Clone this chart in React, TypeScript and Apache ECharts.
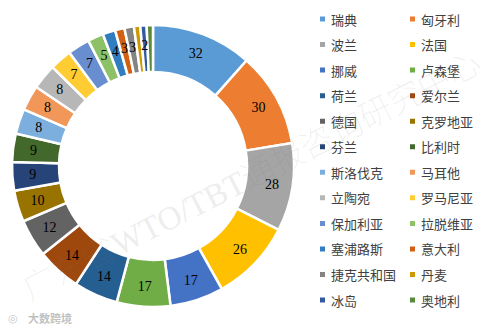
import React, { useEffect, useRef } from "react";
import * as echarts from "echarts";

const countries = [
  "瑞典", "匈牙利", "波兰", "法国", "挪威", "卢森堡", "荷兰", "爱尔兰",
  "德国", "克罗地亚", "芬兰", "比利时", "斯洛伐克", "马耳他", "立陶宛", "罗马尼亚",
  "保加利亚", "拉脱维亚", "塞浦路斯", "意大利", "捷克共和国", "丹麦", "冰岛", "奥地利",
];
const counts = [32, 30, 28, 26, 17, 17, 14, 14, 12, 10, 9, 9, 8, 8, 8, 7, 7, 5, 4, 3, 3, 2, 2, 2];
const colors = [
  "#5B9BD5", "#ED7D31", "#A5A5A5", "#FFC000", "#4472C4", "#70AD47",
  "#255E91", "#9E480E", "#636363", "#997300", "#264478", "#43682B",
  "#7CAFDD", "#F1975A", "#B7B7B7", "#FFCD33", "#698ED0", "#8CC168",
  "#327DC2", "#D26012", "#848484", "#CC9A00", "#335AA1", "#5A8A39",
];
const watermark = "广东省WTO/TBT通报咨询研究中心";
const logoText = "大数跨境";

export default function App() {
  const ref = useRef<HTMLDivElement>(null);
  useEffect(() => {
    if (!ref.current) return;
    const chart = echarts.init(ref.current, undefined, { renderer: "svg" });
    const legendCommon = {
      orient: "vertical" as const,
      top: 11,
      padding: 0,
      itemWidth: 7,
      itemHeight: 7,
      itemGap: 9.55,
      icon: "rect",
      selectedMode: false,
      textStyle: {
        fontFamily: "Noto Sans CJK SC",
        fontSize: 13,
        color: "#404040",
        lineHeight: 16,
        padding: [0, 0, 0, 0],
      },
    };
    chart.setOption({
      animation: false,
      backgroundColor: "#ffffff",
      color: colors,
      legend: [
        { ...legendCommon, left: 318, data: countries.filter((_, i) => i % 2 === 0) },
        { ...legendCommon, left: 408, data: countries.filter((_, i) => i % 2 === 1) },
      ],
      series: [
        {
          type: "pie",
          center: [153, 166],
          radius: [94, 141],
          startAngle: 90,
          clockwise: true,
          avoidLabelOverlap: false,
          itemStyle: { borderColor: "#ffffff", borderWidth: 2.5 },
          label: {
            show: true,
            position: "inside",
            formatter: "{c}",
            color: "#000000",
            fontFamily: "Liberation Serif",
            fontSize: 14,
          },
          labelLine: { show: false },
          emphasis: { disabled: true },
          data: countries.map((n, i) => ({ name: n, value: counts[i] })),
        },
      ],
      graphic: [
        {
          type: "text",
          x: 252,
          y: 176,
          rotation: (27 * Math.PI) / 180,
          z: 100,
          style: {
            text: watermark,
            fontFamily: "Liberation Serif, Noto Sans CJK SC",
            fontSize: 33,
            fontWeight: "lighter",
            fill: "rgba(120,120,120,0.15)",
            align: "center",
            verticalAlign: "middle",
          },
        },
        {
          type: "text",
          x: 8,
          y: 318,
          z: 100,
          style: {
            text: "◎",
            fontSize: 11,
            fill: "rgba(150,150,150,0.6)",
            verticalAlign: "middle",
          },
        },
        {
          type: "text",
          x: 28,
          y: 318,
          z: 100,
          style: {
            text: logoText,
            fontFamily: "Noto Sans CJK SC",
            fontSize: 11,
            fontWeight: "bold",
            fill: "rgba(150,150,150,0.6)",
            verticalAlign: "middle",
          },
        },
      ],
    });
    return () => chart.dispose();
  }, []);
  return (
    <div
      ref={ref}
      style={{ position: "absolute", left: 0, top: 0, width: 492, height: 332 }}
    />
  );
}
